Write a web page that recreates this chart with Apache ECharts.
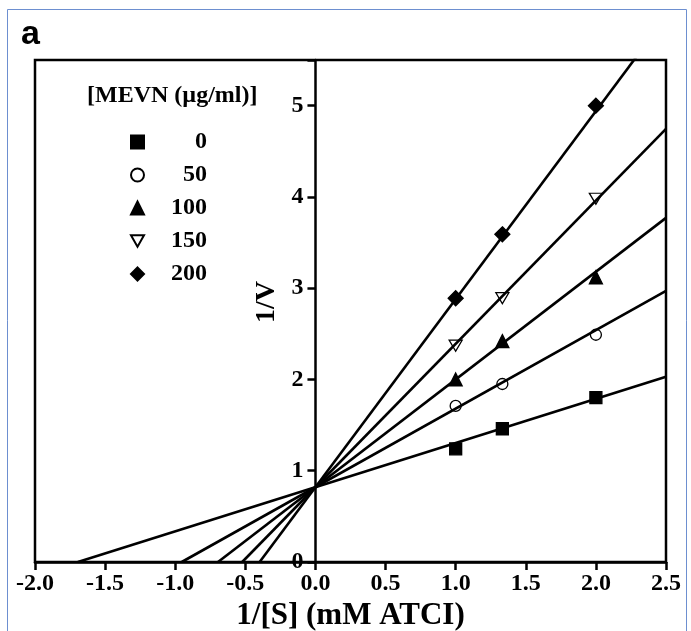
<!DOCTYPE html>
<html>
<head>
<meta charset="utf-8">
<script src="https://cdn.jsdelivr.net/npm/echarts@6/dist/echarts.min.js"></script>
<style>html,body{margin:0;padding:0;background:#fff;}#c{width:691px;height:631px;}</style>
</head>
<body>
<div id="c"></div>
<script>
// Data
const concentrations = ['0', '50', '100', '150', '200'];
const invS = [1, 1.333, 2];
const invV0 = [1.24, 1.46, 1.80];
const invV50 = [1.71, 1.95, 2.49];
const invV100 = [2.00, 2.42, 3.12];
const invV150 = [2.37, 2.89, 3.98];
const invV200 = [2.89, 3.59, 5.00];
// fitted lines: common intercept and slopes
const fitIntercept = 0.82;
const fitSlopes = [0.484, 0.86, 1.18, 1.57, 2.06];
const xTicks = [-2.0, -1.5, -1.0, -0.5, 0.0, 0.5, 1.0, 1.5, 2.0, 2.5];
const yTicks = [0, 1, 2, 3, 4, 5];

const seriesValues = [invV0, invV50, invV100, invV150, invV200];
const downTri = 'path://M0,0 L12,0 L6,10.4 Z';
const symbols = ['rect', 'circle', 'triangle', downTri, 'diamond'];
const symbolSizes = [12, 11, 13, [13, 11], 15];
const fills = ['#000', '#fff', '#000', '#fff', '#000'];

const serif = '"Liberation Serif", "Times New Roman", "DejaVu Serif", serif';
const xMin = xTicks[0], xMax = xTicks[xTicks.length - 1];

const gridLeft = 35, gridRight = 25, gridTop = 60, gridBottom = 69;
const plotW = 691 - gridLeft - gridRight;
const yAxisOffset = -plotW * (0 - xMin) / (xMax - xMin);

const series = [];
seriesValues.forEach((vals, i) => {
  series.push({
    name: concentrations[i],
    type: 'scatter',
    data: invS.map((x, j) => [x, vals[j]]),
    symbol: symbols[i],
    symbolSize: symbolSizes[i],
    itemStyle: { color: fills[i], borderColor: '#000', borderWidth: 1.3, opacity: 1 },
    z: 3
  });
});
fitSlopes.forEach((b, i) => {
  const x0 = -fitIntercept / b;
  series.push({
    name: 'fit' + concentrations[i],
    type: 'line',
    data: [[x0, 0], [xMax, fitIntercept + b * xMax]],
    symbol: 'none',
    lineStyle: { color: '#000', width: 2.6 },
    clip: true,
    silent: true,
    z: 4
  });
});

const chart = echarts.init(document.getElementById('c'));
chart.setOption({
  animation: false,
  backgroundColor: '#fff',
  title: [
    { text: 'a', left: 16, top: 13, textStyle: { fontFamily: '"Liberation Sans", Arial, sans-serif', fontWeight: 'bold', fontSize: 34, color: '#000' } },
    { text: '[MEVN (µg/ml)]', left: 82, top: 79, textStyle: { fontFamily: serif, fontWeight: 'bold', fontSize: 24, color: '#000' } }
  ],
  legend: {
    data: concentrations,
    orient: 'vertical',
    left: 125,
    top: 125,
    itemWidth: 13,
    itemHeight: 13,
    itemGap: 9,
    formatter: '{a|{name}}',
    textStyle: {
      fontFamily: serif, fontWeight: 'bold', fontSize: 24, color: '#000',
      rich: { a: { width: 58, align: 'right', fontFamily: serif, fontWeight: 'bold', fontSize: 24, color: '#000', lineHeight: 24 } }
    }
  },
  grid: { left: gridLeft, right: gridRight, top: gridTop, bottom: gridBottom, show: true, borderColor: '#000', borderWidth: 2.5, containLabel: false, outerBoundsMode: 'none' },
  xAxis: {
    type: 'value', min: xMin, max: xMax, interval: 0.5,
    name: '1/[S] (mM ATCI)', nameLocation: 'middle', nameGap: 34,
    nameTextStyle: { fontFamily: serif, fontWeight: 'bold', fontSize: 31, color: '#000' },
    axisLine: { show: true, onZero: false, lineStyle: { color: '#000', width: 2.5 } },
    axisTick: { show: true, length: 8, lineStyle: { color: '#000', width: 2.5 } },
    axisLabel: { fontFamily: serif, fontWeight: 'bold', fontSize: 24, color: '#000', margin: 10,
      formatter: v => v.toFixed(1) },
    splitLine: { show: false }
  },
  yAxis: {
    type: 'value', min: 0, max: 5.5, interval: 1,
    position: 'left', offset: yAxisOffset,
    name: '1/V', nameLocation: 'middle', nameGap: 25,
    nameTextStyle: { fontFamily: serif, fontWeight: 'bold', fontSize: 28, color: '#000', padding: [0, 0, 0, 18] },
    axisLine: { show: true, onZero: false, lineStyle: { color: '#000', width: 2.5 } },
    axisTick: { show: true, length: 8, lineStyle: { color: '#000', width: 2.5 } },
    axisLabel: { fontFamily: serif, fontWeight: 'bold', fontSize: 24, color: '#000', margin: 12,
      formatter: v => (yTicks.indexOf(v) >= 0 ? String(v) : '') },
    splitLine: { show: false }
  },
  graphic: [
    { type: 'rect', shape: { x: 7.5, y: 9.5, width: 679, height: 640 }, style: { fill: 'none', stroke: '#6d8fd0', lineWidth: 1 }, silent: true, z: -1 }
  ],
  series: series
});
</script>
</body>
</html>
